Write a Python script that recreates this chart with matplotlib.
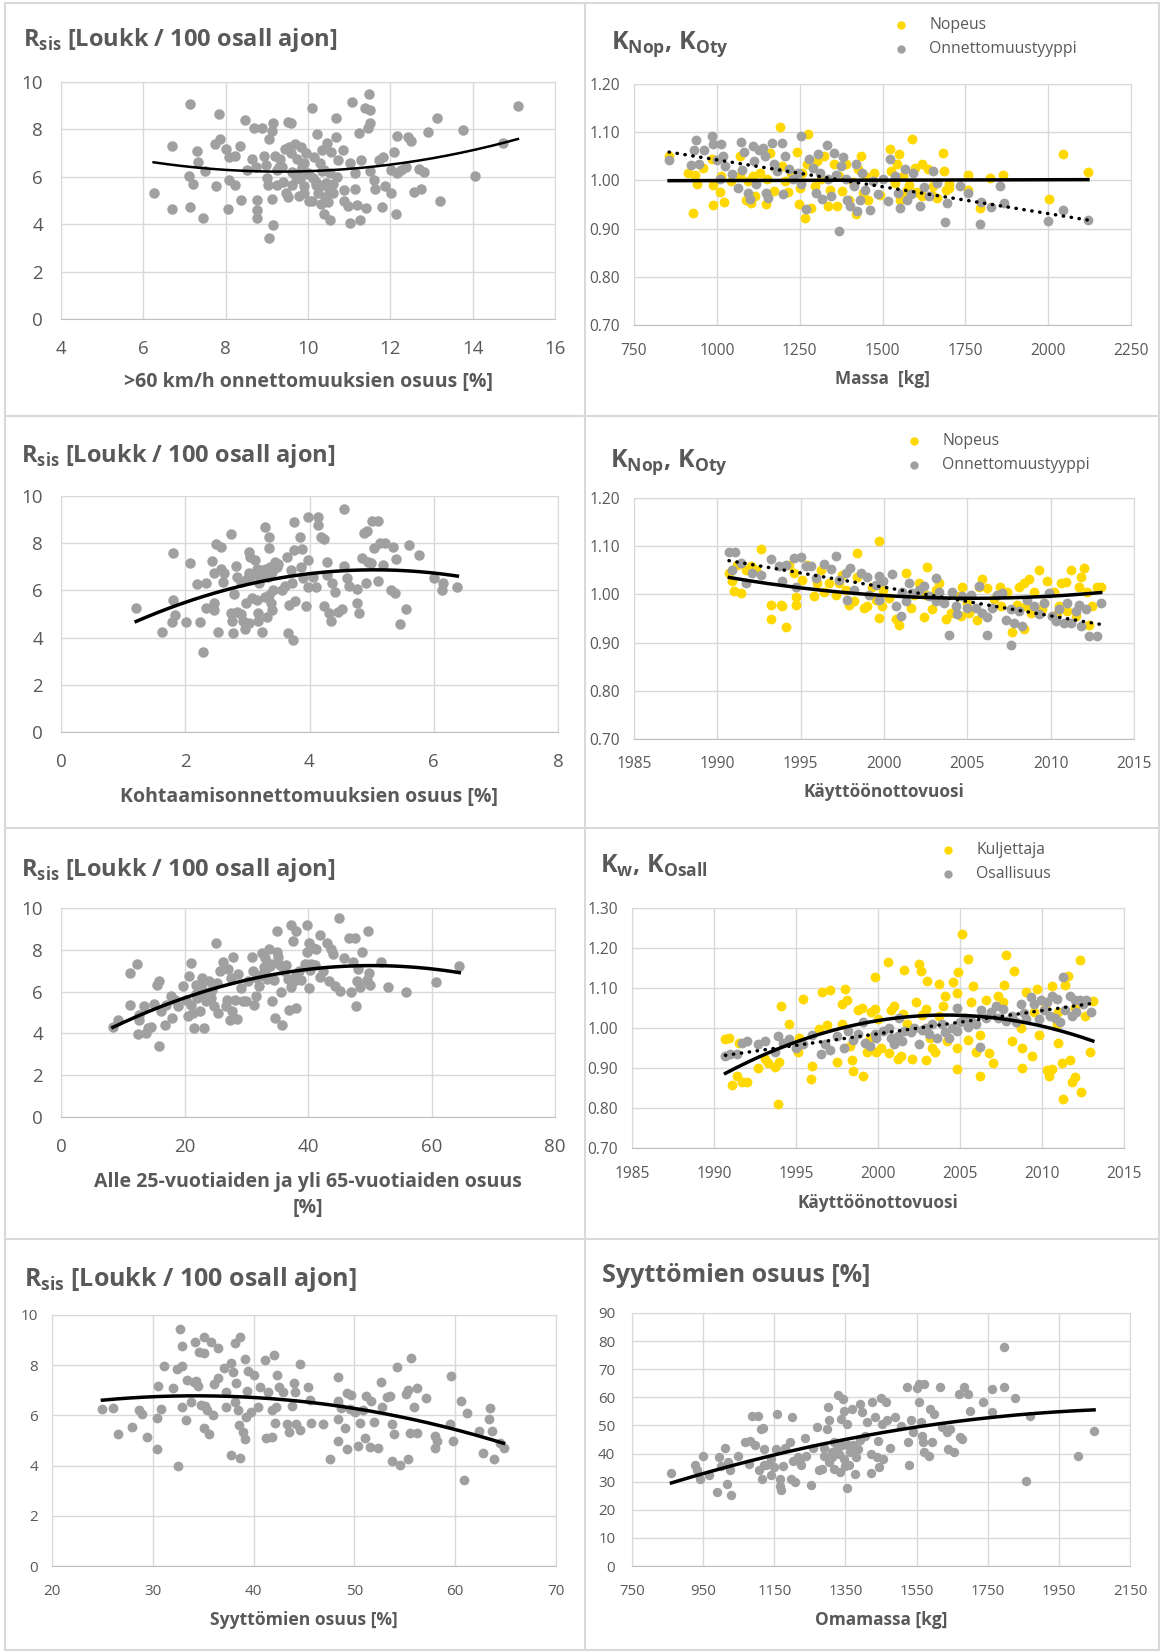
import numpy as np
import matplotlib as mpl
import matplotlib.pyplot as plt
from matplotlib.lines import Line2D

mpl.rcParams['font.family'] = ['Open Sans', 'DejaVu Sans']
mpl.rcParams['mathtext.fontset'] = 'custom'
mpl.rcParams['mathtext.rm'] = 'Open Sans'
mpl.rcParams['mathtext.bf'] = 'Open Sans:bold'

TXT = '#595959'
GRID = '#d9d9d9'
YEL = '#ffd800'
GRY = '#a0a0a0'

# ---- data: R_sis vs >60 km/h share ----
p1_x = [6.25, 6.69, 6.69, 7.13, 7.10, 7.13, 7.20, 7.30, 7.34, 7.44,
        7.50, 7.74, 7.84, 7.87, 7.77, 8.00, 8.05, 8.07, 8.08, 8.22,
        8.22, 8.35, 8.38, 8.48, 8.52, 8.63, 8.69, 8.75, 8.75, 8.75,
        8.73, 8.89, 8.92, 8.98, 9.00, 9.04, 9.05, 9.05, 9.12, 9.16,
        9.16, 9.13, 9.21, 9.24, 9.25, 9.31, 9.38, 9.44, 9.47, 9.51,
        9.51, 9.58, 9.54, 9.58, 9.61, 9.69, 9.73, 9.75, 9.78, 9.83,
        9.85, 9.91, 9.96, 10.01, 10.03, 10.09, 10.12, 10.14, 10.20, 10.23,
        10.25, 10.28, 10.31, 10.33, 10.34, 10.40, 10.42, 10.44, 10.47, 10.49,
        10.54, 10.54, 10.57, 10.60, 10.67, 10.67, 10.73, 10.84, 10.88, 10.88,
        10.98, 11.02, 11.01, 11.07, 11.15, 11.15, 11.19, 11.25, 11.26, 11.28,
        11.39, 11.42, 11.45, 11.49, 11.51, 11.50, 11.50, 11.61, 11.62, 11.73,
        11.79, 11.83, 11.86, 12.01, 12.02, 12.09, 12.13, 12.16, 12.16, 12.26,
        12.39, 12.44, 12.50, 12.57, 12.70, 12.75, 12.81, 12.91, 13.14, 13.21,
        13.77, 14.05, 14.73, 15.10,
        9.6, 9.8, 10.0, 10.2, 10.4, 10.6, 9.9, 10.1, 9.7, 10.3,
        10.5, 10.7, 9.4, 9.3, 9.9]
p1_y = [5.32, 7.32, 4.63, 9.08, 6.05, 4.73, 5.68, 7.08, 6.62, 4.27,
        6.26, 7.39, 8.66, 7.58, 5.62, 7.16, 4.66, 5.85, 6.85, 6.88,
        5.65, 7.32, 5.01, 8.40, 6.29, 6.74, 8.04, 5.01, 4.62, 4.28,
        6.43, 8.04, 6.86, 6.51, 5.95, 5.65, 3.43, 7.60, 7.94, 8.26,
        3.98, 5.07, 6.89, 6.29, 5.64, 6.74, 6.43, 7.16, 5.30, 5.13,
        8.33, 8.26, 7.27, 7.02, 5.64, 7.39, 6.77, 6.14, 5.21, 7.27,
        6.43, 5.61, 6.99, 6.14, 4.96, 8.90, 5.95, 6.85, 5.64, 7.80,
        5.30, 6.57, 4.87, 7.13, 6.26, 4.41, 5.16, 5.72, 7.44, 4.94,
        4.19, 6.14, 7.04, 5.32, 8.47, 7.70, 6.71, 7.13, 5.44, 4.97,
        4.77, 6.57, 4.05, 9.17, 6.14, 5.48, 4.82, 7.85, 4.19, 6.71,
        8.90, 4.68, 8.05, 9.48, 8.83, 8.26, 6.26, 5.85, 5.48, 6.71,
        4.73, 6.85, 5.61, 5.30, 6.29, 7.06, 4.44, 7.73, 6.17, 6.29,
        6.43, 7.66, 7.49, 5.37, 6.33, 5.48, 6.20, 7.91, 8.47, 4.97,
        7.98, 6.03, 7.42, 8.97,
        6.2, 5.9, 6.1, 5.8, 6.3, 5.7, 5.3, 5.0, 6.0, 5.6,
        5.5, 6.0, 5.8, 6.4, 6.6]

# ---- data: K_Nop / K_Oty vs mass ----
p2_nop_x = [856, 914, 928, 934, 940, 957, 984, 987, 987, 1011,
            1013, 1021, 1043, 1069, 1071, 1088, 1093, 1102, 1108, 1116,
            1129, 1147, 1152, 1161, 1172, 1191, 1197, 1206, 1215, 1223,
            1243, 1247, 1251, 1257, 1265, 1272, 1276, 1285, 1296, 1302,
            1314, 1324, 1336, 1341, 1353, 1364, 1370, 1378, 1389, 1398,
            1410, 1421, 1427, 1434, 1440, 1448, 1456, 1474, 1491, 1524,
            1526, 1537, 1549, 1544, 1552, 1563, 1574, 1588, 1597, 1611,
            1619, 1636, 1653, 1664, 1684, 1687, 1693, 1701, 1757, 1759,
            1793, 1824, 1863, 2004, 2045, 2120,
            1560, 1600, 1650, 1700, 1580, 1620]
p2_nop_y = [1.051, 1.015, 0.933, 1.012, 0.992, 1.026, 1.045, 0.990, 0.950, 0.975,
            1.010, 0.955, 0.999, 1.051, 1.009, 0.960, 0.999, 0.954, 1.009, 0.967,
            1.015, 0.951, 1.002, 1.056, 0.978, 1.111, 1.030, 0.999, 0.975, 1.015,
            1.059, 0.951, 0.985, 1.015, 0.921, 1.033, 1.097, 0.942, 0.988, 1.040,
            1.002, 1.051, 0.946, 0.981, 1.033, 0.946, 1.009, 0.978, 1.033, 0.960,
            0.997, 0.930, 1.023, 1.051, 0.974, 1.009, 0.960, 1.015, 0.970, 1.065,
            1.019, 0.995, 1.054, 1.033, 0.960, 1.009, 0.981, 1.085, 1.026, 0.974,
            1.033, 1.023, 0.988, 0.964, 1.056, 1.019, 0.981, 0.992, 1.012, 0.981,
            0.942, 1.006, 1.012, 0.962, 1.054, 1.017,
            0.965, 0.975, 0.970, 0.985, 0.990, 0.968]
p2_oty_x = [856, 922, 936, 932, 947, 962, 986, 989, 1000, 1014,
            1020, 1025, 1009, 1045, 1063, 1074, 1076, 1082, 1093, 1099,
            1108, 1112, 1119, 1127, 1138, 1144, 1149, 1155, 1166, 1172,
            1183, 1197, 1200, 1205, 1217, 1231, 1245, 1253, 1254, 1270,
            1279, 1290, 1299, 1304, 1310, 1318, 1333, 1337, 1346, 1353,
            1360, 1369, 1374, 1382, 1389, 1393, 1402, 1415, 1421, 1424,
            1432, 1437, 1448, 1463, 1470, 1485, 1502, 1518, 1524, 1537,
            1546, 1553, 1567, 1574, 1586, 1592, 1612, 1625, 1639, 1651,
            1665, 1690, 1695, 1735, 1757, 1793, 1796, 1827, 1855, 1866,
            2000, 2045, 2120]
p2_oty_y = [1.042, 1.031, 1.084, 1.064, 1.033, 1.064, 1.092, 1.075, 1.042, 1.075,
            1.051, 1.030, 1.002, 1.013, 0.985, 1.080, 1.022, 1.058, 0.974, 0.962,
            1.072, 1.040, 0.992, 1.064, 1.068, 1.051, 0.974, 0.964, 1.078, 1.035,
            1.019, 1.077, 0.971, 1.051, 1.023, 1.002, 1.015, 1.092, 0.992, 0.941,
            1.044, 1.026, 0.974, 1.054, 1.015, 0.962, 1.074, 1.002, 0.967, 1.056,
            1.012, 0.894, 1.030, 1.049, 1.002, 0.960, 0.946, 0.988, 1.033, 0.936,
            0.959, 1.015, 0.981, 0.938, 0.999, 0.971, 1.002, 0.957, 1.044, 1.009,
            0.974, 0.942, 1.023, 0.960, 0.971, 1.015, 0.946, 0.986, 0.967, 1.019,
            0.995, 0.913, 0.953, 0.988, 0.974, 0.910, 0.955, 0.944, 0.988, 0.953,
            0.915, 0.938, 0.917]

# ---- data: R_sis vs head-on share ----
p3_x = [1.21, 1.63, 1.81, 1.81, 1.78, 1.83, 2.01, 2.08, 2.19, 2.23,
        2.28, 2.34, 2.34, 2.43, 2.46, 2.46, 2.47, 2.50, 2.52, 2.57,
        2.57, 2.61, 2.63, 2.73, 2.74, 2.75, 2.77, 2.78, 2.81, 2.83,
        2.83, 2.90, 2.93, 2.96, 2.98, 3.02, 3.02, 3.02, 3.04, 3.05,
        3.08, 3.12, 3.15, 3.17, 3.17, 3.19, 3.23, 3.23, 3.28, 3.28,
        3.32, 3.33, 3.35, 3.35, 3.37, 3.38, 3.40, 3.41, 3.44, 3.47,
        3.56, 3.63, 3.66, 3.67, 3.71, 3.72, 3.74, 3.75, 3.75, 3.76,
        3.85, 3.87, 3.88, 3.90, 3.95, 3.97, 3.97, 3.98, 4.05, 4.11,
        4.13, 4.13, 4.19, 4.23, 4.23, 4.28, 4.28, 4.31, 4.35, 4.36,
        4.41, 4.46, 4.52, 4.55, 4.56, 4.60, 4.64, 4.76, 4.76, 4.79,
        4.84, 4.88, 4.91, 4.93, 4.94, 4.99, 5.01, 5.04, 5.10, 5.11,
        5.13, 5.21, 5.19, 5.31, 5.35, 5.38, 5.40, 5.45, 5.55, 5.60,
        5.76, 6.00, 6.15, 6.14, 6.38,
        3.1, 3.2, 3.3, 3.4, 3.0, 3.15, 3.35, 2.9, 3.5, 3.6]
p3_y = [5.27, 4.22, 7.57, 5.59, 4.65, 4.96, 4.68, 7.15, 6.27, 4.68,
        3.39, 6.33, 5.27, 7.26, 6.72, 5.45, 5.17, 7.97, 4.22, 7.85,
        6.91, 6.34, 6.72, 8.39, 5.03, 4.72, 4.18, 5.86, 7.03, 6.58,
        5.10, 6.36, 4.72, 4.38, 5.48, 7.64, 6.72, 4.60, 7.43, 6.58,
        5.66, 7.29, 6.92, 5.03, 4.72, 6.30, 6.86, 4.25, 8.70, 5.73,
        4.89, 6.58, 8.28, 7.78, 7.01, 5.48, 5.17, 6.02, 7.22, 7.01,
        6.02, 7.43, 4.18, 5.38, 6.86, 6.30, 3.90, 8.91, 7.71, 5.56,
        8.28, 7.01, 7.74, 6.51, 5.34, 9.10, 7.29, 6.16, 6.58, 6.16,
        9.12, 8.76, 8.28, 8.19, 5.35, 7.22, 6.65, 5.03, 4.72, 6.30,
        5.95, 5.10, 5.20, 9.45, 7.03, 6.51, 6.20, 6.05, 5.45, 5.06,
        7.36, 8.42, 6.30, 8.53, 7.22, 7.15, 8.94, 7.78, 8.94, 6.41,
        8.00, 8.00, 7.06, 6.02, 7.85, 5.90, 7.34, 4.56, 5.21, 7.92,
        7.51, 6.51, 6.30, 6.02, 6.16,
        6.7, 6.6, 6.9, 6.8, 6.5, 5.6, 5.8, 5.0, 7.1, 6.2]

# ---- data: K_Nop / K_Oty vs year ----
p4_nop_x = [1990.72, 1990.9, 1991.0, 1991.4, 1991.7, 1992.0, 1992.6, 1993.2, 1993.2, 1993.8,
            1993.9, 1994.1, 1994.6, 1994.7, 1994.7, 1995.1, 1995.8, 1996.0, 1996.4, 1996.7,
            1997.1, 1997.3, 1997.7, 1997.9, 1998.2, 1998.4, 1998.4, 1998.8, 1999.0, 1999.3,
            1999.5, 1999.7, 1999.7, 1999.9, 1999.96, 2000.3, 2000.7, 2000.9, 2001.3, 2001.6,
            2001.8, 2002.1, 2002.4, 2002.5, 2002.6, 2002.9, 2003.1, 2003.3, 2003.7, 2004.0,
            2004.5, 2004.6, 2004.7, 2004.97, 2005.1, 2005.6, 2005.7, 2005.9, 2006.2, 2006.6,
            2006.97, 2007.4, 2007.7, 2008.0, 2008.1, 2008.4, 2008.4, 2008.7, 2008.8, 2009.0,
            2009.3, 2009.6, 2009.8, 2010.2, 2010.5, 2010.6, 2010.9, 2011.2, 2011.5, 2011.7,
            2011.8, 2012.0, 2012.2, 2012.3, 2012.8, 2013.0,
            1991.2, 1992.3, 1994.3, 1995.4, 1996.2, 1997.5,
            2009.5, 2010.4, 2011.0, 2012.5, 2008.5, 2007.0]
p4_nop_y = [1.044, 1.028, 1.008, 1.002, 1.051, 1.058, 1.094, 0.977, 0.948, 0.979,
            0.975, 0.932, 1.044, 0.995, 0.979, 1.030, 0.996, 1.023, 1.006, 1.023,
            0.999, 1.023, 1.009, 0.979, 0.986, 1.086, 1.037, 0.972, 0.975, 1.016,
            0.989, 1.111, 0.950, 0.975, 1.009, 0.992, 0.948, 0.936, 1.044, 0.972,
            0.999, 1.023, 0.953, 0.999, 1.056, 0.970, 1.009, 1.023, 0.948, 0.962,
            0.996, 0.955, 1.015, 0.982, 0.962, 0.946, 1.016, 1.031, 1.013, 0.990,
            1.016, 1.006, 0.923, 0.979, 1.016, 1.023, 0.929, 1.031, 0.962, 1.006,
            1.051, 0.982, 1.028, 1.006, 0.975, 1.024, 1.026, 1.051, 0.955, 1.016,
            1.037, 1.054, 1.004, 0.937, 1.016, 1.016,
            1.060, 1.050, 1.060, 1.060, 1.050, 1.040,
            0.970, 0.960, 0.965, 0.975, 0.975, 0.975]
p4_oty_x = [1990.7, 1991.05, 1990.9, 1991.4, 1991.7, 1992.1, 1992.6, 1993.2, 1993.7, 1993.9,
            1994.1, 1994.6, 1994.7, 1995.0, 1995.3, 1995.6, 1995.9, 1996.4, 1996.8, 1997.1,
            1997.3, 1997.7, 1997.96, 1997.8, 1998.2, 1998.6, 1998.96, 1999.1, 1999.5, 1999.7,
            1999.7, 1999.96, 2000.5, 2000.7, 2001.0, 2001.1, 2001.3, 2001.5, 2001.7, 2002.1,
            2002.4, 2002.7, 2003.1, 2003.1, 2003.3, 2003.6, 2003.9, 2004.1, 2004.3, 2004.4,
            2004.7, 2005.0, 2005.2, 2005.5, 2005.7, 2005.9, 2006.2, 2006.2, 2006.5, 2006.8,
            2007.1, 2007.3, 2007.6, 2007.6, 2007.8, 2008.1, 2008.3, 2008.6, 2009.0, 2009.3,
            2009.6, 2009.9, 2010.1, 2010.3, 2010.5, 2010.8, 2011.0, 2011.2, 2011.5, 2011.7,
            2011.8, 2012.1, 2012.3, 2012.8, 2013.0]
p4_oty_y = [1.089, 1.089, 1.051, 1.065, 1.023, 1.044, 1.040, 1.073, 1.058, 1.027,
            1.061, 1.075, 1.016, 1.078, 1.058, 1.059, 1.033, 1.063, 1.052, 1.080,
            1.030, 1.044, 1.054, 0.989, 1.009, 1.044, 1.037, 0.999, 1.020, 1.039,
            0.989, 1.027, 1.042, 0.975, 0.955, 1.006, 0.986, 1.023, 1.003, 1.009,
            1.018, 0.996, 1.033, 0.986, 1.006, 0.982, 0.915, 1.006, 0.975, 0.960,
            0.996, 0.972, 0.999, 0.972, 1.018, 0.962, 0.915, 0.953, 0.972, 0.999,
            1.003, 0.946, 0.896, 0.969, 0.940, 0.965, 0.935, 0.989, 0.975, 0.960,
            0.982, 1.003, 0.955, 0.944, 0.969, 0.940, 0.982, 0.940, 0.965, 0.979,
            0.935, 0.969, 0.913, 0.913, 0.982]

# ---- data: R_sis vs young/old driver share ----
p5_x = [8.4, 9.3, 11.1, 11.2, 12.3, 12.4, 12.7, 12.7, 13.5, 13.7,
        14.1, 14.5, 15.0, 15.5, 15.9, 15.9, 16.2, 16.8, 17.0, 17.8,
        17.96, 18.5, 18.9, 19.8, 20.3, 20.6, 20.8, 21.1, 21.1, 21.4,
        21.5, 21.9, 22.1, 22.5, 22.8, 23.0, 23.2, 23.5, 24.0, 24.3,
        24.7, 25.1, 25.3, 25.5, 25.7, 26.3, 26.8, 26.9, 27.1, 27.3,
        27.6, 27.7, 27.9, 28.2, 28.5, 28.6, 29.1, 29.5, 30.0, 30.3,
        31.0, 31.1, 31.3, 31.6, 31.7, 32.0, 32.5, 32.8, 33.1, 33.4,
        33.7, 33.8, 34.2, 34.5, 34.7, 34.9, 35.0, 35.2, 35.4, 35.6,
        35.8, 36.1, 36.4, 37.0, 37.2, 37.3, 37.6, 37.8, 38.1, 38.1,
        38.5, 38.8, 39.5, 39.8, 39.8, 40.1, 40.2, 40.4, 40.8, 41.1,
        41.3, 41.9, 41.9, 42.5, 43.1, 43.4, 43.7, 44.0, 44.4, 45.1,
        45.2, 45.8, 46.6, 46.9, 47.3, 47.6, 47.8, 47.9, 48.1, 48.5,
        48.8, 49.6, 49.7, 49.9, 50.1, 51.9, 52.9, 55.8, 60.8, 64.5,
        21.8, 22.6, 23.4, 24.5, 32.4, 33.0, 34.0, 36.8, 38.0, 40.5]
p5_y = [4.30, 4.65, 6.88, 5.34, 7.32, 3.96, 4.66, 4.89, 5.29, 4.01,
        4.25, 4.33, 5.40, 6.33, 6.52, 3.42, 5.05, 4.41, 5.37, 5.80,
        4.73, 5.61, 5.29, 6.29, 5.61, 4.81, 6.73, 5.37, 7.35, 4.97,
        4.25, 6.33, 5.69, 5.05, 6.65, 6.04, 4.28, 5.53, 6.49, 5.69,
        5.29, 8.32, 6.41, 4.97, 7.00, 7.44, 5.29, 5.61, 7.09, 4.65,
        6.65, 5.05, 7.64, 5.61, 4.68, 6.84, 6.17, 5.56, 5.53, 6.49,
        7.64, 6.97, 5.37, 5.77, 6.65, 6.29, 7.86, 7.16, 7.60, 6.62,
        8.02, 7.22, 5.53, 6.57, 4.76, 8.91, 7.91, 7.67, 7.28, 5.97,
        4.41, 6.97, 7.28, 5.13, 6.20, 9.20, 8.43, 6.49, 8.91, 5.21,
        6.97, 6.57, 7.32, 9.17, 7.91, 6.17, 8.32, 7.03, 8.11, 7.28,
        8.02, 8.72, 6.68, 6.97, 8.32, 6.49, 8.02, 7.78, 6.25, 9.52,
        6.04, 7.60, 8.56, 5.97, 7.44, 8.56, 5.29, 6.52, 7.09, 6.20,
        7.91, 6.57, 8.91, 6.88, 6.33, 7.41, 6.20, 6.00, 6.48, 7.24,
        5.9, 6.2, 5.8, 6.1, 6.8, 7.0, 7.3, 6.6, 6.8, 7.3]

# ---- data: K_w / K_Osall vs year ----
p6_kul_x = [1990.7, 1990.9, 1991.1, 1991.4, 1991.5, 1991.7, 1992.0, 1992.7, 1993.1, 1993.3,
            1993.7, 1993.9, 1993.95, 1994.1, 1994.6, 1995.1, 1995.2, 1995.4, 1995.9, 1996.0,
            1996.4, 1996.6, 1996.9, 1997.1, 1997.5, 1997.8, 1997.8, 1998.0, 1998.1, 1998.3,
            1998.4, 1998.5, 1998.8, 1999.0, 1999.1, 1999.3, 1999.5, 1999.6, 1999.8, 1999.8,
            1999.9, 2000.0, 2000.2, 2000.6, 2000.7, 2000.8, 2001.0, 2001.2, 2001.4, 2001.5,
            2001.6, 2001.75, 2002.1, 2002.3, 2002.5, 2002.6, 2002.7, 2002.9, 2002.95, 2003.0,
            2003.2, 2003.3, 2003.5, 2003.7, 2003.7, 2003.95, 2004.1, 2004.2, 2004.6, 2004.8,
            2004.9, 2004.8, 2004.8, 2005.1, 2005.3, 2005.5, 2005.5, 2005.7, 2005.8, 2006.0,
            2006.2, 2006.2, 2006.6, 2006.75, 2007.0, 2007.3, 2007.6, 2007.7, 2007.8, 2008.2,
            2008.3, 2008.7, 2008.8, 2008.8, 2009.0, 2009.4, 2009.7, 2009.8, 2010.3, 2010.4,
            2010.6, 2010.6, 2010.9, 2010.95, 2011.2, 2011.3, 2011.4, 2011.6, 2011.7, 2011.8,
            2012.0, 2012.3, 2012.4, 2012.9, 2013.1,
            2010.2, 2011.0, 2012.0, 2012.6, 2009.5]
p6_kul_y = [0.972, 0.975, 0.857, 0.881, 0.963, 0.866, 0.864, 0.899, 0.923, 0.912,
            0.902, 0.810, 0.914, 1.056, 1.010, 0.939, 0.976, 1.073, 0.872, 0.905,
            0.997, 1.090, 1.008, 1.094, 0.914, 1.060, 1.010, 1.098, 1.069, 0.956,
            0.920, 0.893, 1.044, 1.049, 0.881, 0.939, 0.976, 1.039, 1.127, 1.048,
            0.939, 1.022, 0.951, 1.166, 0.937, 1.044, 1.056, 0.923, 0.931, 1.035,
            1.146, 1.010, 0.923, 1.065, 1.160, 1.143, 1.033, 1.048, 0.920, 1.117,
            0.976, 0.951, 0.939, 1.031, 1.110, 1.056, 1.081, 0.968, 1.114, 1.087,
            1.139, 0.949, 0.897, 1.236, 1.026, 1.172, 0.970, 1.065, 1.106, 0.939,
            0.983, 0.881, 1.069, 0.937, 0.912, 1.081, 1.066, 1.108, 1.183, 0.968,
            1.143, 1.001, 0.949, 0.901, 1.091, 0.931, 1.098, 0.983, 0.894, 0.881,
            0.897, 1.106, 1.010, 0.963, 0.913, 0.822, 1.108, 1.131, 0.921, 0.864,
            0.878, 1.169, 0.839, 0.941, 1.067,
            1.050, 1.040, 1.050, 1.030, 1.040]
p6_osa_x = [1990.7, 1991.0, 1991.4, 1991.7, 1992.0, 1992.7, 1993.1, 1993.7, 1993.9, 1994.2,
            1994.6, 1995.0, 1995.4, 1995.95, 1996.5, 1996.75, 1997.1, 1997.5, 1997.9, 1998.2,
            1998.5, 1998.8, 1999.1, 1999.2, 1999.5, 1999.8, 1999.9, 2000.3, 2000.7, 2000.8,
            2001.0, 2001.2, 2001.3, 2001.45, 2001.6, 2002.0, 2002.2, 2002.5, 2002.7, 2002.9,
            2003.1, 2003.3, 2003.6, 2003.9, 2004.1, 2004.3, 2004.5, 2004.8, 2004.8, 2005.0,
            2005.3, 2005.5, 2005.7, 2006.0, 2006.2, 2006.3, 2006.6, 2006.9, 2007.2, 2007.3,
            2007.6, 2007.8, 2008.2, 2008.4, 2008.7, 2008.9, 2009.0, 2009.3, 2009.5, 2009.8,
            2009.95, 2010.1, 2010.3, 2010.5, 2010.6, 2010.8, 2010.9, 2011.1, 2011.3, 2011.4,
            2011.7, 2011.8, 2012.0, 2012.1, 2012.3, 2012.5, 2012.7, 2013.0]
p6_osa_y = [0.930, 0.934, 0.934, 0.963, 0.967, 0.959, 0.967, 0.939, 0.980, 0.963,
            0.972, 0.951, 0.959, 0.983, 0.934, 0.959, 0.946, 0.980, 0.949, 0.993,
            0.970, 0.985, 1.014, 0.963, 0.955, 0.985, 0.976, 0.993, 1.001, 0.976,
            0.959, 0.980, 1.026, 0.967, 0.993, 0.989, 1.001, 0.959, 0.994, 0.999,
            0.985, 1.011, 0.976, 1.010, 0.989, 0.976, 1.001, 1.051, 0.993, 1.014,
            1.026, 1.003, 1.018, 1.011, 0.953, 1.044, 1.025, 1.039, 1.056, 1.026,
            1.048, 1.018, 1.031, 1.014, 1.060, 1.037, 1.022, 1.077, 1.060, 1.022,
            1.069, 1.044, 1.065, 1.031, 1.081, 1.026, 1.073, 1.016, 1.127, 1.044,
            1.081, 1.031, 1.071, 1.039, 1.071, 1.060, 1.069, 1.041]

# ---- data: R_sis vs innocent share ----
p7_x = [25.0, 26.1, 26.5, 27.9, 28.6, 28.9, 29.4, 30.4, 30.4, 30.5,
        30.8, 31.1, 32.0, 32.4, 32.5, 32.7, 32.9, 32.9, 32.9, 33.3,
        33.4, 33.8, 34.1, 34.2, 34.3, 34.5, 34.6, 34.8, 35.1, 35.1,
        35.1, 35.2, 35.4, 35.6, 35.8, 36.0, 36.1, 36.5, 36.5, 37.1,
        37.3, 37.3, 37.8, 37.8, 38.0, 38.2, 38.2, 38.3, 38.5, 38.6,
        38.7, 38.7, 38.9, 39.1, 39.1, 39.2, 39.3, 39.4, 39.7, 40.0,
        40.4, 40.6, 41.1, 41.2, 41.4, 41.8, 41.8, 42.0, 42.1, 42.2,
        42.3, 42.5, 42.9, 43.3, 43.5, 43.8, 44.0, 44.1, 44.2, 44.6,
        44.6, 45.4, 45.6, 45.7, 46.9, 47.6, 48.4, 48.4, 48.4, 48.4,
        48.7, 49.1, 49.3, 49.3, 49.6, 49.7, 50.1, 50.4, 50.6, 50.9,
        51.1, 51.2, 51.5, 51.6, 51.9, 52.3, 52.6, 52.7, 53.2, 53.5,
        53.7, 53.7, 53.9, 54.2, 54.5, 55.1, 55.3, 55.3, 55.5, 55.6,
        55.9, 56.2, 56.2, 57.1, 58.0, 58.0, 58.2, 59.5, 59.6, 59.8,
        60.6, 60.9, 61.2, 62.4, 62.8, 63.4, 63.5, 63.7, 63.8, 64.4,
        64.8]
p7_y = [6.25, 6.31, 5.26, 5.53, 6.22, 6.06, 5.15, 4.66, 5.91, 7.19,
        6.25, 7.98, 7.08, 7.86, 3.98, 9.46, 8.75, 6.35, 7.98, 5.81,
        7.42, 6.53, 7.33, 8.93, 7.38, 7.19, 8.53, 6.42, 9.11, 5.51,
        8.47, 6.39, 6.22, 5.26, 8.93, 6.01, 7.24, 7.50, 8.68, 7.88,
        6.35, 6.95, 4.42, 8.08, 7.72, 8.88, 6.55, 7.31, 6.22, 5.62,
        9.14, 4.31, 5.35, 5.06, 8.25, 5.95, 6.98, 7.77, 6.15, 7.62,
        6.35, 7.15, 8.20, 5.09, 6.95, 5.15, 6.22, 8.42, 5.69, 6.35,
        7.62, 7.15, 6.95, 5.65, 5.35, 6.39, 7.31, 6.95, 5.65, 8.04,
        5.42, 7.15, 6.62, 5.69, 5.65, 4.25, 6.58, 5.86, 4.98, 7.54,
        6.29, 5.49, 4.66, 6.88, 6.26, 6.82, 6.13, 4.79, 5.69, 6.22,
        5.11, 6.79, 4.75, 6.58, 5.75, 4.69, 7.33, 6.35, 6.72, 6.79,
        5.65, 4.18, 5.25, 7.91, 4.02, 6.85, 4.26, 7.02, 5.29, 8.28,
        6.35, 7.11, 5.29, 6.68, 5.19, 4.69, 4.98, 5.65, 7.57, 4.98,
        6.58, 3.42, 6.09, 5.38, 4.49, 5.86, 6.31, 5.38, 4.26, 4.89,
        4.71]

# ---- data: innocent share vs curb mass ----
p8_x = [861, 926, 934, 940, 949, 966, 989, 995, 1000, 1012,
        1016, 1020, 1025, 1029, 1048, 1067, 1079, 1081, 1087, 1095,
        1104, 1108, 1113, 1116, 1118, 1121, 1128, 1142, 1148, 1155,
        1158, 1166, 1167, 1169, 1174, 1180, 1193, 1197, 1201, 1203,
        1208, 1216, 1221, 1226, 1235, 1239, 1253, 1258, 1271, 1277,
        1284, 1289, 1298, 1302, 1305, 1311, 1313, 1319, 1325, 1330,
        1334, 1337, 1340, 1344, 1347, 1350, 1354, 1354, 1361, 1363,
        1368, 1372, 1376, 1380, 1386, 1392, 1396, 1405, 1410, 1422,
        1422, 1426, 1434, 1439, 1442, 1445, 1449, 1454, 1456, 1463,
        1468, 1475, 1489, 1505, 1524, 1527, 1530, 1533, 1541, 1552,
        1557, 1558, 1563, 1565, 1568, 1571, 1571, 1584, 1589, 1594,
        1599, 1616, 1621, 1635, 1639, 1645, 1656, 1668, 1673, 1678,
        1684, 1694, 1700, 1738, 1761, 1761, 1797, 1797, 1828, 1858,
        1868, 2005, 2049,
        1318, 1332, 1345, 1358, 1375, 1390, 1290, 1305, 1120, 1140]
p8_y = [33.2, 35.8, 34.0, 31.0, 39.1, 32.4, 26.5, 38.7, 35.5, 41.9,
        29.3, 37.0, 34.0, 25.3, 39.1, 44.1, 36.4, 44.6, 53.3, 42.9,
        53.3, 34.0, 48.8, 30.8, 49.0, 41.7, 35.8, 32.4, 35.2, 41.7,
        54.1, 28.4, 31.0, 26.9, 35.5, 41.9, 44.1, 31.0, 52.9, 37.5,
        29.8, 38.7, 37.0, 35.8, 45.6, 39.3, 28.7, 41.9, 49.4, 34.0,
        34.6, 39.3, 48.8, 56.5, 51.8, 38.7, 40.5, 34.6, 41.7, 61.0,
        33.4, 52.3, 42.9, 59.5, 55.3, 35.5, 50.6, 27.8, 35.8, 40.7,
        55.9, 42.9, 32.8, 38.7, 41.7, 57.7, 54.7, 46.4, 51.4, 39.9,
        33.2, 58.5, 52.9, 38.7, 44.6, 35.2, 59.8, 50.6, 38.1, 58.3,
        51.8, 41.9, 52.9, 49.7, 63.6, 44.1, 36.0, 52.1, 47.6, 63.2,
        64.8, 58.5, 51.2, 46.4, 44.1, 64.8, 40.7, 39.1, 55.9, 44.1,
        54.1, 63.6, 49.4, 47.6, 41.7, 48.6, 40.5, 61.2, 45.8, 45.2,
        63.6, 61.2, 55.3, 58.5, 62.8, 54.9, 77.9, 63.6, 59.7, 30.1,
        53.5, 39.1, 48.2,
        44.0, 40.0, 38.0, 43.0, 41.0, 45.0, 42.0, 37.0, 36.0, 38.0]

W, H = 1161, 1652
fig = plt.figure(figsize=(W / 100, H / 100), dpi=100)


def add_ax(x0, y0, x1, y1):
    return fig.add_axes([x0 / W, 1 - y1 / H, (x1 - x0) / W, (y1 - y0) / H])


def style(ax, xt, yt, fs, xpad, ypad, yfmt=None):
    ax.set_xlim(xt[0], xt[-1])
    ax.set_ylim(yt[0], yt[-1])
    ax.set_xticks(xt)
    ax.set_yticks(yt)
    if yfmt:
        ax.set_yticklabels([yfmt % v for v in yt])
    ax.grid(color=GRID, lw=1)
    ax.set_axisbelow(True)
    for s in ax.spines.values():
        s.set_color(GRID)
    ax.spines['bottom'].set_color('#bfbfbf')
    ax.tick_params(length=0, labelsize=fs, labelcolor=TXT)
    ax.tick_params(axis='x', pad=xpad)
    ax.tick_params(axis='y', pad=ypad)


def trend(ax, x, y, deg, dotted=False, lw=2.5):
    p = np.polynomial.Polynomial.fit(x, y, deg)
    xs = np.linspace(min(x), max(x), 200)
    if dotted:
        ax.plot(xs, p(xs), color='black', lw=lw, ls=(0, (0.1, 2.2)),
                dash_capstyle='round', zorder=5)
    else:
        ax.plot(xs, p(xs), color='black', lw=lw, zorder=5)


def title(x, y, s, fs=17):
    fig.text(x / W, 1 - y / H, s, fontsize=fs, fontweight='bold', color=TXT,
             ha='left', va='center')


def xlab(ax, y, s, fs=12.4):
    b = ax.get_position()
    fig.text((b.x0 + b.x1) / 2, 1 - y / H, s, fontsize=fs, fontweight='bold',
             color=TXT, ha='center', va='center', linespacing=1.45)


def legend(h, labels, x, y):
    fig.legend(h, labels, loc='upper left', bbox_to_anchor=(x / W, 1 - y / H),
               frameon=False, fontsize=11.3, labelcolor=TXT, handlelength=1,
               handletextpad=1.3, labelspacing=0.5, borderpad=0,
               borderaxespad=0, markerscale=0.85)


RSIS = r'R$_{\mathbf{sis}}$ [Loukk / 100 osall ajon]'

# panel 1
ax = add_ax(61, 82, 555, 319)
ax.scatter(p1_x, p1_y, s=57, color=GRY, lw=0)
trend(ax, p1_x, p1_y, 2, lw=1.8)
style(ax, np.arange(4, 17, 2), np.arange(0, 11, 2), 13.5, 15, 13)
title(23, 40, RSIS)
xlab(ax, 382, '>60 km/h onnettomuuksien osuus [%]', 14)

# panel 2
ax = add_ax(634, 84, 1131, 325)
a = ax.scatter(p2_nop_x, p2_nop_y, s=50, color=YEL, lw=0)
b = ax.scatter(p2_oty_x, p2_oty_y, s=50, color=GRY, lw=0)
trend(ax, p2_nop_x, p2_nop_y, 1)
trend(ax, p2_oty_x, p2_oty_y, 1, dotted=True)
style(ax, np.arange(750, 2251, 250), np.round(np.arange(0.7, 1.21, 0.1), 2), 11.2, 13, 10, '%.2f')
title(611, 44, r'K$_{\mathbf{Nop}}$, K$_{\mathbf{Oty}}$', 18)
xlab(ax, 379, 'Massa  [kg]')
legend([a, b], ['Nopeus', 'Onnettomuustyyppi'], 893, 17)

# panel 3
ax = add_ax(61, 496, 558, 732)
ax.scatter(p3_x, p3_y, s=57, color=GRY, lw=0)
trend(ax, p3_x, p3_y, 2)
style(ax, np.arange(0, 9, 2), np.arange(0, 11, 2), 13.5, 15, 13)
title(21, 456, RSIS)
xlab(ax, 797, 'Kohtaamisonnettomuuksien osuus [%]', 14)

# panel 4
ax = add_ax(634, 498, 1134, 739)
a = ax.scatter(p4_nop_x, p4_nop_y, s=50, color=YEL, lw=0)
b = ax.scatter(p4_oty_x, p4_oty_y, s=50, color=GRY, lw=0)
trend(ax, p4_nop_x, p4_nop_y, 2)
trend(ax, p4_oty_x, p4_oty_y, 1, dotted=True)
style(ax, np.arange(1985, 2016, 5), np.round(np.arange(0.7, 1.21, 0.1), 2), 11.2, 12, 10, '%.2f')
title(610, 462, r'K$_{\mathbf{Nop}}$, K$_{\mathbf{Oty}}$', 18)
xlab(ax, 792, 'Käyttöönottovuosi')
legend([a, b], ['Nopeus', 'Onnettomuustyyppi'], 906, 433)

# panel 5
ax = add_ax(61, 908, 555, 1117)
ax.scatter(p5_x, p5_y, s=57, color=GRY, lw=0)
trend(ax, p5_x, p5_y, 2)
style(ax, np.arange(0, 81, 20), np.arange(0, 11, 2), 13.5, 15, 13)
title(21, 870, RSIS)
xlab(ax, 1195, 'Alle 25-vuotiaiden ja yli 65-vuotiaiden osuus\n[%]', 14)

# panel 6
ax = add_ax(632, 908, 1124, 1148)
a = ax.scatter(p6_kul_x, p6_kul_y, s=50, color=YEL, lw=0)
b = ax.scatter(p6_osa_x, p6_osa_y, s=50, color=GRY, lw=0)
trend(ax, p6_kul_x, p6_kul_y, 2)
trend(ax, p6_osa_x, p6_osa_y, 1, dotted=True)
style(ax, np.arange(1985, 2016, 5), np.round(np.arange(0.7, 1.31, 0.1), 2), 11.2, 13, 10, '%.2f')
title(600, 866, r'K$_{\mathbf{w}}$, K$_{\mathbf{Osall}}$', 18)
xlab(ax, 1203, 'Käyttöönottovuosi')
legend([a, b], ['Kuljettaja', 'Osallisuus'], 940, 842)

# panel 7
ax = add_ax(52, 1315, 556, 1566)
ax.scatter(p7_x, p7_y, s=50, color=GRY, lw=0)
trend(ax, p7_x, p7_y, 2)
style(ax, np.arange(20, 71, 10), np.arange(0, 11, 2), 11, 13, 10)
title(24, 1280, RSIS, 18)
xlab(ax, 1620, 'Syyttömien osuus [%]', 12.6)

# panel 8
ax = add_ax(632, 1313, 1130, 1566)
ax.scatter(p8_x, p8_y, s=46, color=GRY, lw=0)
trend(ax, p8_x, p8_y, 2)
style(ax, np.arange(750, 2151, 200), np.arange(0, 91, 10), 10.8, 13, 12)
title(602, 1276, 'Syyttömien osuus [%]', 18)
xlab(ax, 1620, 'Omamassa [kg]')

# panel frames
for xs, ys in [([5, 1159], [3, 3]), ([5, 1159], [416, 416]), ([5, 1159], [828, 828]),
               ([5, 1159], [1239, 1239]), ([5, 1159], [1650, 1650]),
               ([5, 5], [3, 1650]), ([585, 585], [3, 1650]), ([1159, 1159], [3, 1650])]:
    fig.add_artist(Line2D([v / W for v in xs], [1 - v / H for v in ys],
                          color=GRID, lw=1.5))

fig.savefig('out.png', dpi=100, facecolor='white')
